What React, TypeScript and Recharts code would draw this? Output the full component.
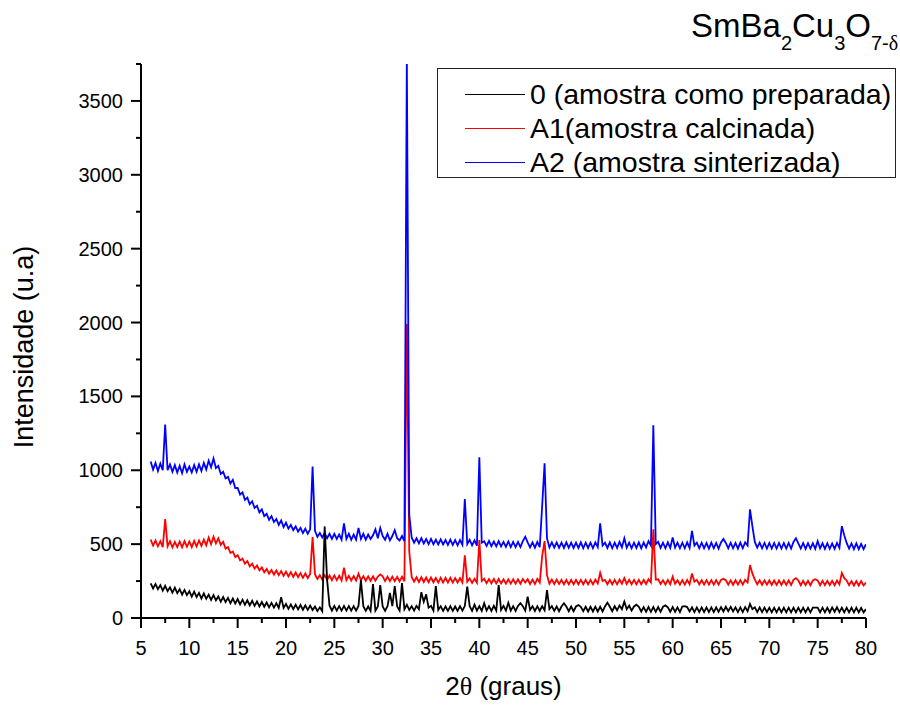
import { Legend, Line, LineChart, XAxis, YAxis } from 'recharts';

/**
 * Difratograma de raios X do SmBa2Cu3O7-d em tres etapas de preparo.
 * Varredura de 6 a 80 graus, passo de 0.25 grau.
 */

const FONT = '"Liberation Sans", Arial, sans-serif';

// varredura: angulo inicial e passo (graus)
const SCAN_START = 6;
const SCAN_STEP = 0.25;

// 0 (amostra como preparada) - uma linha por grau (x.00, x.25, x.50, x.75)
const amostra0 = [
  235, 200, 230, 195, // 6
  222, 185, 218, 182, // 7
  208, 172, 205, 168, // 8
  195, 158, 190, 155, // 9
  182, 145, 178, 142, // 10
  170, 132, 166, 130, // 11
  158, 122, 155, 120, // 12
  146, 110, 142, 108, // 13
  136, 100, 132, 98, // 14
  128, 92, 124, 90, // 15
  120, 85, 116, 82, // 16
  112, 78, 108, 76, // 17
  105, 72, 102, 70, // 18
  100, 68, 140, 68, // 19
  95, 62, 92, 60, // 20
  90, 58, 88, 56, // 21
  86, 55, 84, 54, // 22
  78, 48, 72, 46, // 23
  620, 260, 85, 50, // 24
  82, 50, 80, 50, // 25
  82, 50, 80, 50, // 26
  80, 50, 82, 257, // 27
  80, 48, 78, 48, // 28
  230, 50, 78, 223, // 29
  78, 48, 80, 170, // 30
  80, 216, 78, 50, // 31
  236, 60, 90, 55, // 32
  80, 50, 82, 60, // 33
  175, 110, 160, 70, // 34
  82, 50, 216, 55, // 35
  80, 48, 78, 48, // 36
  80, 48, 78, 48, // 37
  80, 50, 82, 212, // 38
  80, 48, 90, 50, // 39
  80, 48, 100, 50, // 40
  80, 48, 82, 50, // 41
  223, 55, 82, 50, // 42
  103, 50, 80, 48, // 43
  82, 100, 80, 50, // 44
  144, 55, 80, 48, // 45
  80, 48, 80, 52, // 46
  189, 60, 80, 48, // 47
  78, 46, 78, 100, // 48
  78, 46, 78, 46, // 49
  78, 88, 76, 46, // 50
  76, 44, 76, 44, // 51
  76, 44, 76, 44, // 52
  78, 104, 76, 46, // 53
  80, 52, 85, 60, // 54
  110, 60, 84, 50, // 55
  78, 90, 76, 44, // 56
  74, 42, 74, 42, // 57
  74, 42, 74, 42, // 58
  76, 85, 72, 42, // 59
  74, 42, 72, 40, // 60
  78, 80, 74, 44, // 61
  72, 40, 72, 40, // 62
  72, 40, 72, 40, // 63
  72, 40, 72, 42, // 64
  74, 44, 76, 46, // 65
  75, 44, 72, 40, // 66
  72, 40, 74, 46, // 67
  95, 60, 72, 40, // 68
  72, 40, 70, 40, // 69
  70, 38, 70, 38, // 70
  70, 38, 70, 38, // 71
  70, 38, 70, 38, // 72
  70, 38, 70, 38, // 73
  70, 38, 70, 70, // 74
  70, 38, 70, 38, // 75
  70, 38, 72, 42, // 76
  73, 40, 70, 38, // 77
  70, 38, 70, 38, // 78
  70, 38, 68, 38, // 79
  60, // 80
];

// A1 (amostra calcinada)
const amostraA1 = [
  530, 490, 525, 485, // 6
  520, 480, 670, 485, // 7
  520, 478, 515, 480, // 8
  518, 478, 520, 482, // 9
  518, 480, 522, 485, // 10
  525, 488, 530, 492, // 11
  545, 500, 550, 505, // 12
  540, 495, 515, 470, // 13
  480, 440, 450, 412, // 14
  425, 390, 402, 368, // 15
  385, 350, 368, 334, // 16
  355, 322, 342, 310, // 17
  332, 300, 325, 294, // 18
  322, 290, 318, 285, // 19
  314, 282, 310, 278, // 20
  308, 276, 304, 272, // 21
  302, 270, 298, 548, // 22
  295, 264, 290, 260, // 23
  290, 258, 288, 256, // 24
  288, 256, 286, 254, // 25
  340, 256, 285, 254, // 26
  284, 254, 300, 255, // 27
  284, 252, 282, 252, // 28
  282, 252, 280, 295, // 29
  282, 250, 280, 250, // 30
  280, 250, 278, 248, // 31
  280, 248, 1990, 450, // 32
  278, 246, 276, 244, // 33
  276, 244, 274, 242, // 34
  274, 242, 272, 240, // 35
  272, 240, 272, 240, // 36
  272, 240, 270, 240, // 37
  270, 240, 425, 245, // 38
  268, 238, 266, 238, // 39
  527, 250, 266, 236, // 40
  264, 234, 264, 234, // 41
  264, 234, 262, 232, // 42
  262, 232, 262, 232, // 43
  262, 232, 264, 240, // 44
  262, 230, 260, 230, // 45
  265, 240, 420, 520, // 46
  290, 232, 260, 230, // 47
  260, 230, 258, 228, // 48
  258, 228, 258, 228, // 49
  258, 228, 258, 228, // 50
  258, 228, 258, 228, // 51
  260, 234, 306, 250, // 52
  258, 228, 258, 228, // 53
  258, 228, 260, 232, // 54
  270, 230, 258, 228, // 55
  258, 228, 258, 228, // 56
  258, 230, 262, 240, // 57
  600, 260, 262, 230, // 58
  256, 226, 258, 228, // 59
  280, 232, 256, 226, // 60
  256, 226, 258, 228, // 61
  302, 246, 258, 228, // 62
  256, 226, 256, 226, // 63
  256, 226, 256, 226, // 64
  258, 265, 256, 226, // 65
  255, 225, 256, 226, // 66
  256, 226, 258, 240, // 67
  358, 300, 262, 228, // 68
  255, 225, 255, 225, // 69
  254, 224, 254, 224, // 70
  254, 224, 254, 224, // 71
  254, 224, 258, 270, // 72
  254, 222, 252, 222, // 73
  252, 222, 254, 262, // 74
  255, 222, 252, 222, // 75
  252, 222, 252, 222, // 76
  254, 228, 306, 270, // 77
  254, 222, 250, 220, // 78
  250, 220, 250, 220, // 79
  240, // 80
];

// A2 (amostra sinterizada)
const amostraA2 = [
  1060, 1005, 1050, 995, // 6
  1045, 1000, 1310, 1000, // 7
  1040, 990, 1035, 985, // 8
  1030, 980, 1040, 990, // 9
  1025, 985, 1035, 990, // 10
  1040, 995, 1050, 1005, // 11
  1065, 1020, 1080, 1015, // 12
  1030, 975, 990, 945, // 13
  955, 910, 935, 880, // 14
  880, 835, 850, 800, // 15
  815, 770, 790, 745, // 16
  760, 715, 735, 690, // 17
  705, 665, 690, 650, // 18
  670, 630, 660, 615, // 19
  645, 605, 630, 595, // 20
  620, 585, 610, 575, // 21
  605, 570, 600, 1025, // 22
  590, 550, 575, 545, // 23
  575, 540, 570, 535, // 24
  570, 535, 565, 530, // 25
  640, 535, 570, 530, // 26
  565, 530, 610, 535, // 27
  570, 530, 565, 535, // 28
  560, 600, 540, 610, // 29
  555, 530, 570, 525, // 30
  555, 595, 540, 525, // 31
  555, 520, 3800, 700, // 32
  545, 510, 540, 505, // 33
  540, 505, 535, 500, // 34
  535, 500, 530, 498, // 35
  532, 498, 528, 495, // 36
  530, 495, 528, 492, // 37
  528, 495, 805, 500, // 38
  530, 492, 525, 490, // 39
  1088, 510, 520, 488, // 40
  522, 486, 518, 484, // 41
  520, 484, 515, 482, // 42
  518, 480, 515, 480, // 43
  515, 480, 520, 550, // 44
  512, 478, 512, 476, // 45
  515, 480, 760, 1047, // 46
  540, 478, 512, 476, // 47
  512, 475, 510, 474, // 48
  512, 475, 510, 474, // 49
  510, 474, 512, 472, // 50
  510, 474, 510, 472, // 51
  512, 480, 641, 490, // 52
  510, 474, 512, 472, // 53
  510, 474, 515, 478, // 54
  540, 476, 510, 472, // 55
  510, 474, 512, 472, // 56
  512, 478, 520, 490, // 57
  1304, 500, 515, 474, // 58
  510, 472, 512, 474, // 59
  545, 476, 510, 472, // 60
  510, 472, 512, 474, // 61
  590, 490, 510, 472, // 62
  510, 472, 508, 470, // 63
  510, 472, 508, 470, // 64
  512, 535, 508, 472, // 65
  510, 472, 508, 470, // 66
  510, 472, 512, 490, // 67
  736, 620, 515, 476, // 68
  510, 472, 508, 470, // 69
  508, 470, 508, 470, // 70
  508, 470, 508, 470, // 71
  508, 470, 515, 540, // 72
  505, 470, 508, 468, // 73
  506, 470, 506, 468, // 74
  520, 472, 506, 468, // 75
  506, 468, 505, 468, // 76
  508, 475, 622, 560, // 77
  508, 470, 505, 466, // 78
  505, 466, 502, 466, // 79
  500, // 80
];

const xTicks = [5, 7.5, 10, 12.5, 15, 17.5, 20, 22.5, 25, 27.5, 30, 32.5, 35, 37.5, 40, 42.5, 45, 47.5, 50, 52.5, 55, 57.5, 60, 62.5, 65, 67.5, 70, 72.5, 75, 77.5, 80];
const yTicks = [0, 250, 500, 750, 1000, 1250, 1500, 1750, 2000, 2250, 2500, 2750, 3000, 3250, 3500, 3750];

const seriesNames = ['0 (amostra como preparada)', 'A1(amostra calcinada)', 'A2 (amostra sinterizada)'];
const seriesColors = ['#000000', '#ff0000', '#0000ff'];

const toPoints = (values: number[]) =>
  values.map((v, i) => ({ angle: SCAN_START + i * SCAN_STEP, value: v }));

const pontos0 = toPoints(amostra0);
const pontosA1 = toPoints(amostraA1);
const pontosA2 = toPoints(amostraA2);

const XTick = ({ x, y, payload }: any) => {
  const major = payload.value % 5 === 0;
  return (
    <g>
      <line x1={x} y1={y} x2={x} y2={y + (major ? 10 : 5)} stroke="#000" strokeWidth={2} />
      {major && (
        <text x={x} y={y + 37} textAnchor="middle" fontSize={20} fontFamily={FONT} fill="#000">
          {payload.value}
        </text>
      )}
    </g>
  );
};

const YTick = ({ x, y, payload }: any) => {
  const major = payload.value % 500 === 0;
  return (
    <g>
      <line x1={x - (major ? 10 : 5)} y1={y} x2={x} y2={y} stroke="#000" strokeWidth={2} />
      {major && (
        <text x={x - 18} y={y + 7} textAnchor="end" fontSize={20} fontFamily={FONT} fill="#000">
          {payload.value}
        </text>
      )}
    </g>
  );
};

const renderLegend = () => (
  <div
    style={{
      boxSizing: 'border-box',
      width: 459,
      height: 110,
      border: '1px solid #222',
      background: '#fff',
      paddingTop: 8,
      fontFamily: FONT,
      fontSize: 28.5,
      color: '#000',
    }}
  >
    {seriesNames.map((name, i) => (
      <div key={name} style={{ display: 'flex', alignItems: 'center', height: 34 }}>
        <span
          style={{
            display: 'inline-block',
            width: 60,
            height: 0,
            borderTop: `1px solid ${seriesColors[i]}`,
            marginLeft: 27,
            marginRight: 5,
          }}
        />
        <span style={{ lineHeight: '34px', whiteSpace: 'nowrap' }}>{name}</span>
      </div>
    ))}
  </div>
);

export default function App() {
  return (
    <div style={{ position: 'absolute', left: 0, top: 0, width: 900, height: 705, background: '#fff' }}>
      <LineChart width={900} height={705} margin={{ top: 64, right: 34, bottom: 0, left: 0 }}>
        <XAxis
          type="number"
          dataKey="angle"
          domain={[5, 80]}
          ticks={xTicks}
          interval={0}
          tickSize={0}
          tickMargin={0}
          tick={<XTick />}
          axisLine={{ stroke: '#000', strokeWidth: 2 }}
          height={87}
          allowDataOverflow
          label={{
            content: ({ viewBox }: any) => (
              <text
                x={viewBox.x + viewBox.width / 2}
                y={viewBox.y + 77}
                textAnchor="middle"
                fontSize={26}
                fontFamily={FONT}
                fill="#000"
              >
                2<tspan fontFamily='"Liberation Serif", serif'>θ</tspan> (graus)
              </text>
            ),
          }}
        />
        <YAxis
          type="number"
          domain={[0, 3750]}
          ticks={yTicks}
          interval={0}
          tickSize={0}
          tickMargin={0}
          tick={<YTick />}
          axisLine={{ stroke: '#000', strokeWidth: 2 }}
          width={141}
          allowDataOverflow
          label={{
            content: ({ viewBox }: any) => {
              const cy = viewBox.y + viewBox.height / 2 + 6;
              return (
                <text
                  x={33}
                  y={cy}
                  transform={`rotate(-90 33 ${cy})`}
                  textAnchor="middle"
                  fontSize={27}
                  fontFamily={FONT}
                  fill="#000"
                >
                  Intensidade (u.a)
                </text>
              );
            },
          }}
        />
        <Line data={pontosA1} dataKey="value" name={seriesNames[1]} stroke={seriesColors[1]} strokeWidth={1.8} dot={false} isAnimationActive={false} />
        <Line data={pontosA2} dataKey="value" name={seriesNames[2]} stroke={seriesColors[2]} strokeWidth={1.8} dot={false} isAnimationActive={false} />
        <Line data={pontos0} dataKey="value" name={seriesNames[0]} stroke={seriesColors[0]} strokeWidth={1.8} dot={false} isAnimationActive={false} />
        <Legend
          layout="vertical"
          align="center"
          verticalAlign="middle"
          content={renderLegend}
          wrapperStyle={{ left: 437, top: 68, width: 459, height: 110 }}
        />
      </LineChart>

      {/* titulo: formula quimica */}
      <svg width={900} height={705} style={{ position: 'absolute', left: 0, top: 0, pointerEvents: 'none' }}>
        <text x={691} y={37} fontSize={33} fontFamily={FONT} fill="#000">
          SmBa
          <tspan fontSize={20} dy={13}>2</tspan>
          <tspan dy={-13}>Cu</tspan>
          <tspan fontSize={20} dy={13}>3</tspan>
          <tspan dy={-13}>O</tspan>
          <tspan fontSize={20} dy={13}>7-</tspan>
          <tspan fontSize={20} fontFamily='"Liberation Serif", serif'>δ</tspan>
        </text>
      </svg>
    </div>
  );
}
